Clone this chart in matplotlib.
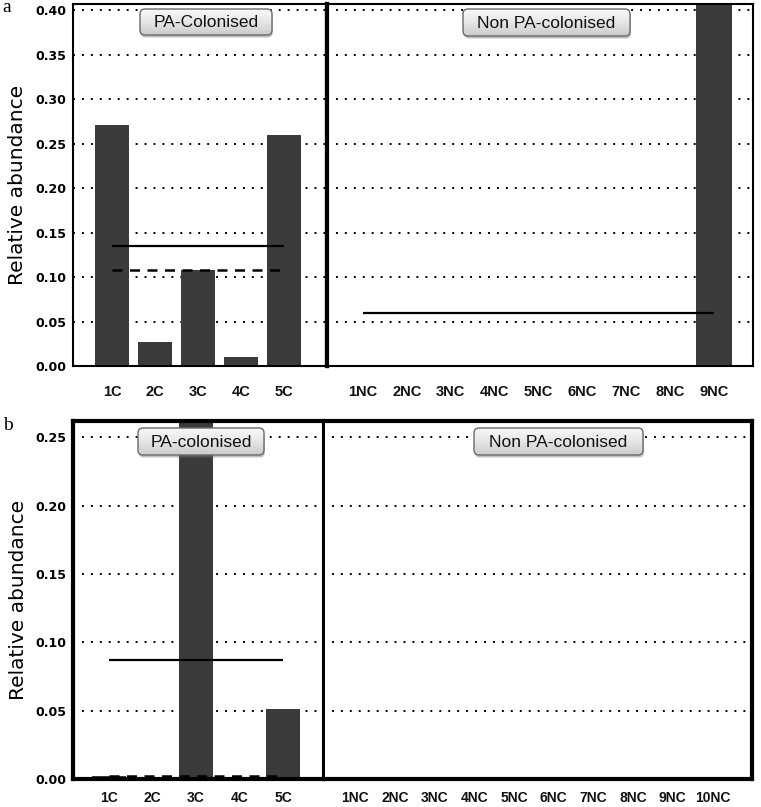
import numpy as np
import matplotlib
matplotlib.use('Agg')
import matplotlib.pyplot as plt
from matplotlib.patches import FancyBboxPatch
from matplotlib.colors import LinearSegmentedColormap

# Panel a (relative abundance per patient)
A_COL_LABELS = ['1C', '2C', '3C', '4C', '5C']
A_COL_VALUES = [0.271, 0.027, 0.108, 0.010, 0.260]
A_NON_LABELS = ['1NC', '2NC', '3NC', '4NC', '5NC', '6NC', '7NC', '8NC', '9NC']
A_NON_VALUES = [0, 0, 0, 0, 0, 0, 0, 0, 0.54]

# Panel b
B_COL_LABELS = ['1C', '2C', '3C', '4C', '5C']
B_COL_VALUES = [0.002, 0.0, 0.38, 0.001, 0.051]
B_NON_LABELS = ['1NC', '2NC', '3NC', '4NC', '5NC', '6NC', '7NC', '8NC', '9NC', '10NC']
B_NON_VALUES = [0, 0, 0, 0, 0, 0, 0, 0, 0, 0]

W, H = 761, 807
BAR_COLOR = '#3b3b3b'
GRID_STYLE = dict(color='black', linestyle=(0, (1, 3.6)), linewidth=1.4)

fig = plt.figure(figsize=(W / 100, H / 100), dpi=100)
fig.patch.set_facecolor('white')


def px_axes(left, top, right, bottom):
    """Axes from pixel edges measured from the top-left corner."""
    return fig.add_axes([left / W, 1 - bottom / H, (right - left) / W, (bottom - top) / H])


def draw_group(ax, labels, values, xlim, ylim, yticks, center_tick, show_y,
               label_pad=14, label_size=10.5):
    x = np.arange(len(labels))
    ax.bar(x, values, width=0.8, color=BAR_COLOR, zorder=2)
    mean = np.mean(values)
    median = np.median(values)
    ax.hlines(mean, x[0], x[-1], color='black', linewidth=1.6, zorder=3)
    ax.hlines(median, x[0], x[-1], color='black', linewidth=1.8,
              linestyle=(0, (4, 3)), zorder=3)
    ax.set_xlim(*xlim)
    ax.set_ylim(*ylim)
    ax.set_yticks(yticks)
    ax.yaxis.grid(True, **GRID_STYLE)
    ax.set_axisbelow(True)
    ax.set_xticks(x, labels)
    ax.tick_params(axis='x', which='major', length=0, pad=label_pad)
    for t in ax.get_xticklabels():
        t.set_fontfamily('Liberation Sans')
        t.set_fontweight('bold')
        t.set_fontsize(label_size)
        t.set_color('#111111')
    ax.set_xticks([center_tick], minor=True)
    ax.tick_params(axis='x', which='minor', direction='in', length=5, width=1.3,
                   top=True, bottom=True)
    ax.tick_params(axis='y', length=0, pad=5)
    if show_y:
        ax.set_yticklabels([f'{v:.2f}' for v in yticks])
        for t in ax.get_yticklabels():
            t.set_fontweight('bold')
            t.set_fontsize(9)
        ax.set_ylabel('Relative abundance', fontsize=14.5)
        ax.yaxis.set_label_coords(-0.18, 0.5)
    else:
        ax.set_yticklabels([])


def style_spines(ax, outer, inner, inner_side):
    for side, sp in ax.spines.items():
        sp.set_linewidth(inner if side == inner_side else outer)
        sp.set_color('black')


def label_box(text, left, top, width, height):
    # rounded grey button-like box, pixel coordinates from top-left
    bax = fig.add_axes([left / W, 1 - (top + height) / H, width / W, height / H])
    bax.set_axis_off()
    ma = width / height
    shadow = FancyBboxPatch((0.006, -2.5 / height), 1, 1,
                            boxstyle=f'round,pad=0,rounding_size={5 / width}',
                            mutation_aspect=ma, transform=bax.transAxes,
                            fc='#777777', ec='none', alpha=0.45, clip_on=False)
    bax.add_patch(shadow)
    box = FancyBboxPatch((0, 0), 1, 1,
                         boxstyle=f'round,pad=0,rounding_size={5 / width}',
                         mutation_aspect=ma, transform=bax.transAxes,
                         fc='none', ec='#6a6a6a', lw=1.0, clip_on=False, zorder=3)
    cmap = LinearSegmentedColormap.from_list('btn', ['#f8f8f8', '#e6e6e6', '#cbcbcb'])
    grad = np.linspace(0, 1, 64).reshape(-1, 1)
    im = bax.imshow(grad, cmap=cmap, aspect='auto', extent=[0, 1, 0, 1],
                    origin='upper', zorder=2)
    bax.add_patch(box)
    im.set_clip_path(box)
    bax.set_xlim(0, 1)
    bax.set_ylim(0, 1)
    bax.text(0.5, 0.47, text, ha='center', va='center', fontsize=12.5,
             family='Liberation Sans', color='#111111', zorder=4)


# ---- panel a ----
ax_a1 = px_axes(73, 4, 327, 366)
ax_a2 = px_axes(327, 4, 753, 366)
draw_group(ax_a1, A_COL_LABELS, A_COL_VALUES, (-0.91, 5.0), (0, 0.407),
           np.arange(0, 0.401, 0.05), 2, True)
draw_group(ax_a2, A_NON_LABELS, A_NON_VALUES, (-0.82, 8.89), (0, 0.407),
           np.arange(0, 0.401, 0.05), 4, False)
style_spines(ax_a1, 1.5, 3.0, 'right')
style_spines(ax_a2, 1.5, 3.0, 'left')

# ---- panel b ----
ax_b1 = px_axes(73, 421, 323, 779)
ax_b2 = px_axes(323, 421, 752, 779)
draw_group(ax_b1, B_COL_LABELS, B_COL_VALUES, (-0.83, 4.92), (0, 0.262),
           np.arange(0, 0.251, 0.05), 2, True, label_pad=8.5, label_size=10)
draw_group(ax_b2, B_NON_LABELS, B_NON_VALUES, (-0.81, 10.0), (0, 0.262),
           np.arange(0, 0.251, 0.05), 5, False, label_pad=8.5, label_size=10)
style_spines(ax_b1, 3.0, 2.2, 'right')
style_spines(ax_b2, 3.0, 2.2, 'left')

label_box('PA-Colonised', 140, 9, 132, 26)
label_box('Non PA-colonised', 463, 9, 167, 27)
label_box('PA-colonised', 138, 428, 126, 27)
label_box('Non PA-colonised', 474, 428, 169, 27)

fig.text(2 / W, 1 - 8 / H, 'a', family='Liberation Serif', fontsize=14,
         ha='left', va='center')
fig.text(3 / W, 1 - 425 / H, 'b', family='Liberation Serif', fontsize=14,
         ha='left', va='center')

fig.savefig('out.png', dpi=100, facecolor='white')
